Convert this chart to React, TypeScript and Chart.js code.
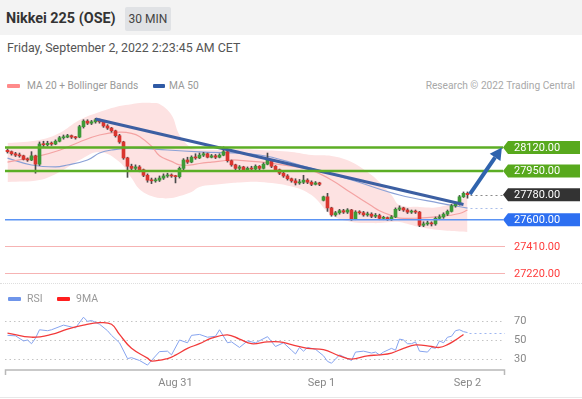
import React, { useEffect, useRef } from "react";
import { Chart, registerables } from "chart.js";

Chart.register(...registerables);

const FONT = "Roboto, 'Liberation Sans', Arial, sans-serif";

const title = "Nikkei 225 (OSE)";
const interval = "30 MIN";
const dateText = "Friday, September 2, 2022 2:23:45 AM CET";
const copyright = "Research \u00a9 2022 Trading Central";

// [open, high, low, close] per 30-minute bar
const candles: [number, number, number, number][] = [
  [28100, 28110, 28080, 28090], [28090, 28095, 28065, 28075], [28075, 28085, 28055, 28065], [28065, 28080, 28050, 28060],
  [28060, 28065, 28030, 28035], [28035, 28045, 28020, 28030], [28030, 28090, 28025, 28060], [28060, 28065, 27935, 28000],
  [28000, 28160, 27990, 28145], [28145, 28165, 28125, 28140], [28140, 28165, 28130, 28150], [28150, 28160, 28135, 28145],
  [28145, 28175, 28140, 28165], [28165, 28200, 28160, 28190], [28190, 28210, 28180, 28195], [28195, 28215, 28190, 28205],
  [28205, 28210, 28185, 28195], [28195, 28200, 28180, 28190], [28195, 28280, 28190, 28270], [28270, 28320, 28260, 28310],
  [28310, 28320, 28285, 28295], [28295, 28315, 28285, 28305], [28305, 28330, 28295, 28320], [28320, 28325, 28295, 28305],
  [28305, 28310, 28265, 28275], [28275, 28285, 28250, 28260], [28260, 28265, 28230, 28240], [28240, 28245, 28195, 28205],
  [28205, 28215, 28150, 28160], [28160, 28165, 28035, 28045], [28045, 28050, 27905, 27985], [27985, 28000, 27955, 27970],
  [27970, 27995, 27960, 27980], [27980, 27990, 27945, 27960], [27960, 27965, 27910, 27920], [27920, 27930, 27870, 27885],
  [27885, 27900, 27860, 27880], [27880, 27900, 27870, 27885], [27885, 27915, 27875, 27900], [27900, 27930, 27890, 27915],
  [27915, 27935, 27905, 27920], [27920, 27930, 27905, 27915], [27915, 27920, 27865, 27910], [27910, 27980, 27900, 27970],
  [27970, 28040, 27960, 28030], [28030, 28050, 28005, 28015], [28015, 28060, 28010, 28050], [28050, 28075, 28035, 28045],
  [28045, 28080, 28040, 28065], [28065, 28085, 28055, 28075], [28075, 28080, 28045, 28050], [28050, 28070, 28045, 28060],
  [28060, 28070, 28040, 28050], [28050, 28075, 28045, 28065], [28065, 28125, 28060, 28090], [28090, 28095, 28015, 28025],
  [28025, 28030, 27985, 27995], [27995, 28000, 27960, 27970], [27970, 27990, 27960, 27980], [27980, 27985, 27950, 27960],
  [27960, 27980, 27955, 27970], [27970, 27985, 27955, 27965], [27965, 27995, 27960, 27985], [27985, 27990, 27960, 27970],
  [27970, 28010, 27965, 28000], [28000, 28080, 27995, 28030], [28030, 28035, 27975, 27985], [27985, 27990, 27950, 27960],
  [27960, 27965, 27925, 27935], [27935, 27945, 27905, 27915], [27915, 27925, 27885, 27895], [27895, 27900, 27870, 27880],
  [27880, 27895, 27850, 27865], [27865, 27890, 27855, 27870], [27870, 27920, 27860, 27885], [27885, 27895, 27860, 27870],
  [27870, 27880, 27845, 27855], [27855, 27875, 27850, 27865], [27865, 27870, 27845, 27855], [27740, 27770, 27735, 27765],
  [27765, 27790, 27660, 27685], [27685, 27690, 27625, 27635], [27635, 27660, 27625, 27650], [27650, 27675, 27640, 27665],
  [27665, 27675, 27645, 27655], [27655, 27680, 27645, 27670], [27670, 27675, 27595, 27605], [27605, 27665, 27600, 27655],
  [27655, 27665, 27640, 27650], [27650, 27660, 27625, 27635], [27635, 27655, 27625, 27640], [27640, 27650, 27615, 27625],
  [27625, 27645, 27615, 27630], [27630, 27640, 27600, 27610], [27610, 27625, 27600, 27615], [27615, 27620, 27595, 27605],
  [27605, 27630, 27595, 27620], [27620, 27685, 27615, 27675], [27675, 27700, 27665, 27685], [27685, 27690, 27660, 27670],
  [27670, 27680, 27645, 27655], [27655, 27670, 27645, 27660], [27660, 27670, 27645, 27655], [27655, 27660, 27550, 27560],
  [27560, 27585, 27550, 27570], [27570, 27590, 27560, 27575], [27575, 27585, 27555, 27570], [27570, 27620, 27560, 27610],
  [27610, 27635, 27600, 27620], [27620, 27650, 27610, 27640], [27640, 27670, 27630, 27660], [27660, 27710, 27655, 27700],
  [27700, 27725, 27690, 27715], [27715, 27775, 27705, 27765], [27765, 27800, 27760, 27790], [27790, 27800, 27755, 27780],
];

// Bollinger bands + MA 20
const bbIdx = [0, 8, 13, 18, 23, 28, 31, 33, 36, 38, 41, 43, 46, 48, 51, 56, 58, 63, 71, 76, 81, 86, 91, 93, 96, 98, 103, 108, 113, 115];
const bbUpper = [28152, 28174, 28224, 28318, 28376, 28419, 28432, 28440, 28440, 28433, 28354, 28210, 28116, 28105, 28102, 28105, 28109, 28102, 28088, 28066, 28059, 28016, 27922, 27870, 27778, 27706, 27692, 27692, 27742, 27778];
const bbLower = [27872, 27886, 27944, 28030, 28088, 28016, 27900, 27820, 27770, 27756, 27756, 27770, 27800, 27836, 27850, 27865, 27868, 27872, 27840, 27778, 27634, 27584, 27576, 27576, 27584, 27584, 27548, 27526, 27515, 27512];
const ma20 = [28015, 28060, 28100, 28160, 28210, 28230, 28222, 28200, 28130, 28060, 28020, 27995, 27995, 28005, 28015, 28030, 28028, 28016, 27985, 27955, 27886, 27792, 27700, 27665, 27630, 27612, 27612, 27622, 27645, 27670];

// MA 50
const ma50Idx = [0, 6, 12, 15, 20, 23, 26, 31, 40, 48, 63, 73, 86, 98, 108, 115];
const ma50 = [28044, 27994, 27980, 27994, 28030, 28080, 28102, 28116, 28102, 28088, 28066, 27994, 27886, 27778, 27720, 27684];

// trend line and projection arrow
const trendIdx = [22, 114];
const trendVal = [28325, 27710];
const arrowIdx = [115.6, 123.6];
const arrowVal = [27785, 28120];

// levels
const resistance = [28120, 27950];
const support = 27600;
const lastPrice = 27780;
const extraLevels = [27410, 27220];

// RSI and its 9-period MA
const rsiIdx = [0, 2, 4, 5, 6, 7, 8, 10, 11, 14, 16, 17, 19, 20, 21, 23, 25, 26, 28, 30, 31, 33, 35, 36, 38, 40, 41, 43, 45, 46, 48, 50, 52, 53, 55, 56, 58, 60, 62, 65, 67, 69, 71, 72, 73, 74, 75, 76, 77, 79, 80, 81, 83, 84, 86, 87, 89, 91, 92, 93, 94, 96, 97, 98, 99, 100, 101, 102, 103, 105, 106, 107, 108, 109, 110, 111, 112, 113, 114, 115];
const rsiVal = [55, 54.5, 49, 50, 46, 52, 61, 60, 61, 66, 64, 63, 74.5, 70, 71, 67, 60, 55, 47, 30, 31, 28, 23, 28, 37.5, 38, 34, 50, 47, 55, 56, 53, 54, 61, 47, 48, 42, 49, 47, 53.6, 43, 47, 39, 35, 42, 38, 42, 41, 40, 33, 27, 25, 34, 32, 28, 37, 38, 36, 37, 34, 37, 41, 39, 51, 50, 46, 46, 48, 38, 37, 42, 41, 49, 47, 53, 54, 60, 61, 59, 58];
const ma9Idx = [0, 6, 11, 15, 19, 23, 26, 28, 31, 35, 36, 40, 42, 45, 48, 51, 55, 58, 61, 65, 68, 71, 75, 79, 83, 86, 90, 93, 96, 99, 102, 106, 108, 110, 112, 114];
const ma9Val = [57.5, 53, 56, 61.8, 66, 68.6, 67, 56, 41, 30.5, 27.4, 30, 33.7, 41, 46, 52, 55.6, 51, 46, 48, 48, 45, 41, 39.6, 33, 29.5, 33, 34, 36, 41, 44.7, 43, 42, 45, 50, 56];
const rsiLevels = [70, 50, 30];

const xTickIdx = [42, 78.5, 115];
const xTickLabels = ["Aug 31", "Sep 1", "Sep 2"];

const X_MIN = -1.875;
const X_MAX = 143.625;
const P_MIN = 27130;
const P_MAX = 28498;
const R_MIN = -9.14;
const R_MAX = 93.01;

const GREEN = "#3d9a37";
const RED = "#d9352f";

const pts = (xs: number[], ys: number[]) => xs.map((x, k) => ({ x, y: ys[k] }));

function tag(ctx: CanvasRenderingContext2D, tipX: number, yc: number, text: string, bg: string) {
  const h = 13;
  const bodyX = tipX + 5;
  const right = 580;
  ctx.fillStyle = bg;
  ctx.beginPath();
  ctx.moveTo(tipX, yc);
  ctx.lineTo(bodyX, yc - h / 2);
  ctx.lineTo(right, yc - h / 2);
  ctx.lineTo(right, yc + h / 2);
  ctx.lineTo(bodyX, yc + h / 2);
  ctx.closePath();
  ctx.fill();
  ctx.fillStyle = "#fff";
  ctx.font = `11px ${FONT}`;
  ctx.textAlign = "left";
  ctx.textBaseline = "middle";
  ctx.fillText(text, tipX + 11, yc + 0.5);
}

const mainOverlay = {
  id: "mainOverlay",
  afterDatasetsDraw(chart: any) {
    const { ctx } = chart;
    const xs = chart.scales.x;
    const ys = chart.scales.y;
    const L = 5;
    const R = 503;
    ctx.save();
    extraLevels.forEach((p) => {
      const yy = Math.round(ys.getPixelForValue(p)) + 0.5;
      ctx.strokeStyle = "#f6b3b3";
      ctx.lineWidth = 1;
      ctx.beginPath();
      ctx.moveTo(L, yy);
      ctx.lineTo(505, yy);
      ctx.stroke();
      ctx.fillStyle = "#ff3b3b";
      ctx.font = `11px ${FONT}`;
      ctx.textBaseline = "middle";
      ctx.textAlign = "left";
      ctx.fillText(p.toFixed(2), 514, yy + 0.5);
    });
    {
      const yy = ys.getPixelForValue(support);
      ctx.strokeStyle = "#5b94f4";
      ctx.lineWidth = 1.5;
      ctx.beginPath();
      ctx.moveTo(L, yy);
      ctx.lineTo(R, yy);
      ctx.stroke();
    }
    resistance.forEach((p) => {
      const yy = ys.getPixelForValue(p);
      ctx.strokeStyle = "#5cae25";
      ctx.lineWidth = 2.5;
      ctx.beginPath();
      ctx.moveTo(L, yy);
      ctx.lineTo(R, yy);
      ctx.stroke();
    });
    const lastX = xs.getPixelForValue(candles.length - 1) + 3;
    ctx.setLineDash([2, 3]);
    ctx.lineWidth = 1;
    ctx.strokeStyle = "#8a8a8a";
    let yy = Math.round(ys.getPixelForValue(lastPrice)) + 0.5;
    ctx.beginPath();
    ctx.moveTo(lastX, yy);
    ctx.lineTo(R, yy);
    ctx.stroke();
    ctx.strokeStyle = "#a9bde9";
    yy = Math.round(ys.getPixelForValue(ma50[ma50.length - 1])) + 0.5;
    ctx.beginPath();
    ctx.moveTo(lastX, yy);
    ctx.lineTo(505, yy);
    ctx.stroke();
    ctx.setLineDash([]);
    const x1 = xs.getPixelForValue(arrowIdx[0]);
    const y1 = ys.getPixelForValue(arrowVal[0]);
    const x2 = xs.getPixelForValue(arrowIdx[1]);
    const y2 = ys.getPixelForValue(arrowVal[1]);
    const ang = Math.atan2(y2 - y1, x2 - x1);
    const head = 12;
    const bx = x2 - head * Math.cos(ang);
    const by = y2 - head * Math.sin(ang);
    ctx.strokeStyle = "#2f63ad";
    ctx.fillStyle = "#2f63ad";
    ctx.lineWidth = 4;
    ctx.beginPath();
    ctx.moveTo(x1, y1);
    ctx.lineTo(bx, by);
    ctx.stroke();
    ctx.beginPath();
    ctx.moveTo(x2, y2);
    ctx.lineTo(bx + 6.5 * Math.sin(ang), by - 6.5 * Math.cos(ang));
    ctx.lineTo(bx - 6.5 * Math.sin(ang), by + 6.5 * Math.cos(ang));
    ctx.closePath();
    ctx.fill();
    resistance.forEach((p) => tag(ctx, R, ys.getPixelForValue(p), p.toFixed(2), "#58a91d"));
    tag(ctx, R, ys.getPixelForValue(lastPrice), lastPrice.toFixed(2), "#333333");
    tag(ctx, R, ys.getPixelForValue(support), support.toFixed(2), "#2d6ff1");
    ctx.restore();
  },
};

const rsiOverlay = {
  id: "rsiOverlay",
  beforeDatasetsDraw(chart: any) {
    const { ctx } = chart;
    const ys = chart.scales.y;
    ctx.save();
    ctx.setLineDash([1.5, 3]);
    ctx.strokeStyle = "#c4c4c4";
    ctx.lineWidth = 1;
    rsiLevels.forEach((v) => {
      const yy = Math.round(ys.getPixelForValue(v)) + 0.5;
      ctx.beginPath();
      ctx.moveTo(5, yy);
      ctx.lineTo(503, yy);
      ctx.stroke();
      ctx.fillStyle = "#888";
      ctx.font = `11px ${FONT}`;
      ctx.textAlign = "left";
      ctx.textBaseline = "middle";
      ctx.fillText(String(v), 514, yy);
    });
    ctx.restore();
  },
  afterDatasetsDraw(chart: any) {
    const { ctx, chartArea } = chart;
    const xs = chart.scales.x;
    const ys = chart.scales.y;
    ctx.save();
    const lx = xs.getPixelForValue(rsiIdx[rsiIdx.length - 1]) + 2;
    const ly = Math.round(ys.getPixelForValue(rsiVal[rsiVal.length - 1])) + 0.5;
    ctx.setLineDash([2, 3]);
    ctx.strokeStyle = "#9fb6f0";
    ctx.lineWidth = 1;
    ctx.beginPath();
    ctx.moveTo(lx, ly);
    ctx.lineTo(505, ly);
    ctx.stroke();
    ctx.setLineDash([]);
    const ay = chartArea.top + 70;
    ctx.strokeStyle = "#b8b8b8";
    ctx.lineWidth = 1.5;
    ctx.beginPath();
    ctx.moveTo(5.5, ay + 5);
    ctx.lineTo(5.5, ay);
    ctx.lineTo(504.5, ay);
    ctx.lineTo(504.5, ay + 5);
    ctx.stroke();
    ctx.fillStyle = "#888";
    ctx.font = `11px ${FONT}`;
    ctx.textAlign = "center";
    ctx.textBaseline = "middle";
    xTickIdx.forEach((v, k) => {
      ctx.fillText(xTickLabels[k], xs.getPixelForValue(v), chartArea.top + 83);
    });
    ctx.restore();
  },
};

export default function App() {
  const mainRef = useRef<HTMLCanvasElement>(null);
  const rsiRef = useRef<HTMLCanvasElement>(null);

  useEffect(() => {
    document.body.style.margin = "0";
    const main = new Chart(mainRef.current as HTMLCanvasElement, {
      type: "bar",
      data: {
        datasets: [
          {
            type: "line",
            data: pts(bbIdx, bbUpper),
            borderColor: "rgba(0,0,0,0)",
            borderWidth: 0,
            pointRadius: 0,
            tension: 0.4,
            fill: "+1",
            backgroundColor: "#fde2e2",
            order: 10,
          },
          {
            type: "line",
            data: pts(bbIdx, bbLower),
            borderColor: "rgba(0,0,0,0)",
            borderWidth: 0,
            pointRadius: 0,
            tension: 0.4,
            fill: false,
            order: 11,
          },
          {
            type: "line",
            data: pts(ma50Idx, ma50),
            borderColor: "#8ba1d6",
            borderWidth: 1.2,
            pointRadius: 0,
            tension: 0.4,
            fill: false,
            order: 8,
          },
          {
            type: "line",
            data: pts(bbIdx, ma20),
            borderColor: "#f4a3a3",
            borderWidth: 1.2,
            pointRadius: 0,
            tension: 0.4,
            fill: false,
            order: 7,
          },
          {
            type: "bar",
            data: candles.map((c, i) => ({ x: i, y: [c[2], c[1]] })),
            backgroundColor: "#4a4a4a",
            barThickness: 1,
            grouped: false,
            order: 5,
          },
          {
            type: "bar",
            data: candles.map((c, i) => ({ x: i, y: [c[0], c[3]] })),
            backgroundColor: candles.map((c) => (c[3] >= c[0] ? GREEN : RED)),
            barThickness: 3,
            minBarLength: 1,
            grouped: false,
            order: 4,
          },
          {
            type: "line",
            data: pts(trendIdx, trendVal),
            borderColor: "#3c5fa2",
            borderWidth: 3,
            pointRadius: 0,
            tension: 0,
            fill: false,
            order: 2,
          },
        ] as any,
      },
      options: {
        animation: false,
        responsive: false,
        maintainAspectRatio: false,
        layout: { padding: 0 },
        plugins: { legend: { display: false }, tooltip: { enabled: false } },
        scales: {
          x: { type: "linear", display: false, min: X_MIN, max: X_MAX, offset: false },
          y: { type: "linear", display: false, min: P_MIN, max: P_MAX },
        },
      } as any,
      plugins: [mainOverlay],
    });

    const rsi = new Chart(rsiRef.current as HTMLCanvasElement, {
      type: "line",
      data: {
        datasets: [
          {
            data: pts(ma9Idx, ma9Val),
            borderColor: "#f23a3a",
            borderWidth: 1.3,
            pointRadius: 0,
            tension: 0.4,
            order: 1,
          },
          {
            data: pts(rsiIdx, rsiVal),
            borderColor: "#86a4ef",
            borderWidth: 1,
            pointRadius: 0,
            tension: 0,
            order: 2,
          },
        ],
      },
      options: {
        animation: false,
        responsive: false,
        maintainAspectRatio: false,
        layout: { padding: 0 },
        plugins: { legend: { display: false }, tooltip: { enabled: false } },
        scales: {
          x: { type: "linear", display: false, min: X_MIN, max: X_MAX },
          y: { type: "linear", display: false, min: R_MIN, max: R_MAX },
        },
      } as any,
      plugins: [rsiOverlay],
    });

    return () => {
      main.destroy();
      rsi.destroy();
    };
  }, []);

  const abs = (s: React.CSSProperties): React.CSSProperties => ({ position: "absolute", ...s });

  return (
    <div
      style={{
        position: "fixed",
        left: 0,
        top: 0,
        width: 582,
        height: 399,
        background: "#fff",
        fontFamily: FONT,
        overflow: "hidden",
      }}
    >
      <div style={abs({ left: 0, top: 0, width: 582, height: 35, background: "#f3f3f3" })} />
      <div style={abs({ left: 6, top: 10, fontSize: 14.4, fontWeight: 700, color: "#333", lineHeight: "18px", whiteSpace: "nowrap" })}>
        {title}
      </div>
      <div
        style={abs({
          left: 125,
          top: 7,
          width: 46,
          height: 24,
          background: "#e0e2e5",
          color: "#444",
          fontSize: 12,
          lineHeight: "24px",
          textAlign: "center",
          borderRadius: 2,
        })}
      >
        {interval}
      </div>
      <div style={abs({ left: 7, top: 40, fontSize: 12.4, color: "#555", lineHeight: "16px", whiteSpace: "nowrap" })}>{dateText}</div>

      <div style={abs({ left: 7, top: 84, width: 13, height: 4, background: "#ff8a8a", borderRadius: 1 })} />
      <div style={abs({ left: 27, top: 79, fontSize: 10.2, color: "#999", lineHeight: "14px", whiteSpace: "nowrap" })}>
        MA 20 + Bollinger Bands
      </div>
      <div style={abs({ left: 153, top: 84, width: 12, height: 4, background: "#2f5aa5", borderRadius: 1 })} />
      <div style={abs({ left: 169, top: 79, fontSize: 10.2, color: "#999", lineHeight: "14px", whiteSpace: "nowrap" })}>MA 50</div>
      <div style={abs({ right: 7, top: 79, fontSize: 10.2, color: "#a8a8a8", lineHeight: "14px", whiteSpace: "nowrap" })}>
        {copyright}
      </div>

      <canvas ref={mainRef} width={582} height={190} style={abs({ left: 0, top: 95, width: 582, height: 190 })} />

      <div style={abs({ left: 0, top: 283, width: 582, height: 0, borderTop: "1px dotted #dedede" })} />

      <div style={abs({ left: 8, top: 297, width: 13, height: 4, background: "#6f95ea", borderRadius: 1 })} />
      <div style={abs({ left: 27, top: 292, fontSize: 10.5, color: "#999", lineHeight: "14px" })}>RSI</div>
      <div style={abs({ left: 57, top: 297, width: 13, height: 4, background: "#ff1f1f", borderRadius: 1 })} />
      <div style={abs({ left: 76, top: 292, fontSize: 10.5, color: "#999", lineHeight: "14px" })}>9MA</div>

      <canvas ref={rsiRef} width={582} height={95} style={abs({ left: 0, top: 300, width: 582, height: 95 })} />

      <div style={abs({ left: 0, top: 397, width: 582, height: 1, background: "#e8e8e8" })} />
    </div>
  );
}
